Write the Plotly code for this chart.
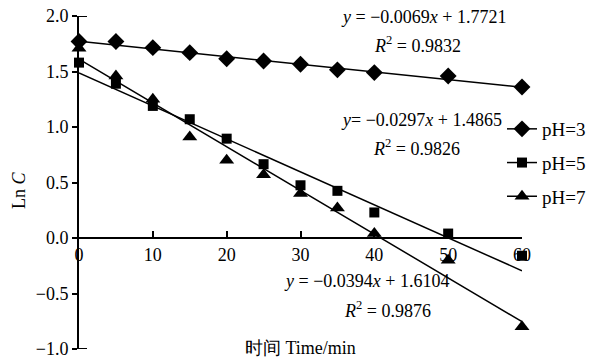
import plotly.graph_objects as go

time = [0, 5, 10, 15, 20, 25, 30, 35, 40, 50, 60]
ph3 = [1.77, 1.77, 1.715, 1.67, 1.615, 1.595, 1.565, 1.515, 1.49, 1.46, 1.36]
ph5 = [1.58, 1.39, 1.19, 1.07, 0.895, 0.665, 0.475, 0.425, 0.23, 0.04, -0.16]
ph7 = [1.71, 1.46, 1.25, 0.91, 0.70, 0.57, 0.40, 0.27, 0.04, -0.20, -0.80]
fit3 = (-0.0069, 1.7721)
fit5 = (-0.0297, 1.4865)
fit7 = (-0.0394, 1.6104)
fit_x = [0, 60]
names = ["pH=3", "pH=5", "pH=7"]
symbols = ["diamond", "square", "triangle-up"]
eq_text = [
    ("<i>y</i> = −0.0069<i>x</i> + 1.7721", "<i>R</i><sup>2</sup> = 0.9832"),
    ("<i>y</i>= −0.0297<i>x</i> + 1.4865", "<i>R</i><sup>2</sup> = 0.9826"),
    ("<i>y</i> = −0.0394<i>x</i> + 1.6104", "<i>R</i><sup>2</sup> = 0.9876"),
]

FONT = "Liberation Serif"
FS = 18
fig = go.Figure()
for ys, fit, nm, sym in zip([ph3, ph5, ph7], [fit3, fit5, fit7], names, symbols):
    fig.add_trace(go.Scatter(x=fit_x, y=[fit[0] * v + fit[1] for v in fit_x], mode="lines",
                             line=dict(color="black", width=1.5), showlegend=False, cliponaxis=False))
    size = 13 if sym != "square" else 10
    fig.add_trace(go.Scatter(x=time, y=ys, mode="markers",
                             marker=dict(symbol=sym, size=size, color="black"),
                             showlegend=False, cliponaxis=False))
    fig.add_trace(go.Scatter(x=[None], y=[None], mode="lines+markers", name=nm, legendgroup=nm,
                             marker=dict(symbol=sym, size=size, color="black"),
                             line=dict(color="black", width=1.5)))

# page body has an 8px margin, so the figure is drawn at (8, 8)
OFF = 8
W, H = 594 - OFF, 362 - OFF
L, T = 79 - OFF, 16 - OFF
R = W - (522 - OFF)
B = H - (349 - OFF)

def pxx(px):
    return (px - OFF - L) / (W - L - R)

def pxy(py):
    return (H - B - (py - OFF)) / (H - T - B)

def note(x, y, text, angle=0):
    fig.add_annotation(xref="paper", yref="paper", x=pxx(x), y=pxy(y), text=text,
                       showarrow=False, xanchor="center", yanchor="middle", textangle=angle,
                       font=dict(family=FONT, size=FS, color="black"))

ann_pos = [((423, 17), (417, 44)), ((421, 120), (416, 148)), ((366, 281), (387, 309))]
for (l1, l2), ((x1, y1), (x2, y2)) in zip(eq_text, ann_pos):
    note(x1, y1, l1)
    note(x2, y2, l2)

note(300, 348, "时间 Time/min")
note(19, 190, "Ln <i>C</i>", angle=-90)

for yv in (2, -1):
    fig.add_shape(type="line", xref="paper", yref="y", x0=0, x1=pxx(87), y0=yv, y1=yv,
                  line=dict(color="black", width=2))

fig.update_layout(
    width=W, height=H,
    margin=dict(l=L, r=R, t=T, b=B, autoexpand=False),
    paper_bgcolor="white", plot_bgcolor="white",
    font=dict(family=FONT, size=FS, color="black"),
    xaxis=dict(range=[0, 60], tickvals=[0, 10, 20, 30, 40, 50, 60], showgrid=False, zeroline=False,
               showline=True, linecolor="black", linewidth=2, ticks="inside", ticklen=6,
               tickcolor="black", tickwidth=1.5, anchor="free", position=1 / 3, automargin=False,
               ticklabeloverflow="allow"),
    yaxis=dict(range=[-1, 2], tickvals=[-1, -0.5, 0, 0.5, 1, 1.5, 2],
               ticktext=["−1.0", "−0.5", "0.0", "0.5", "1.0", "1.5", "2.0"],
               showgrid=False, zeroline=False, showline=True, linecolor="black", linewidth=2,
               ticks="outside", ticklen=5, tickcolor="black", tickwidth=1.5, automargin=False,
               ticklabeloverflow="allow"),
    legend=dict(x=pxx(502), y=pxy(110), xanchor="left", yanchor="top", bgcolor="rgba(0,0,0,0)",
                font=dict(family=FONT, size=19), tracegroupgap=6, itemwidth=30),
    showlegend=True,
)
fig.write_html("out.html")
